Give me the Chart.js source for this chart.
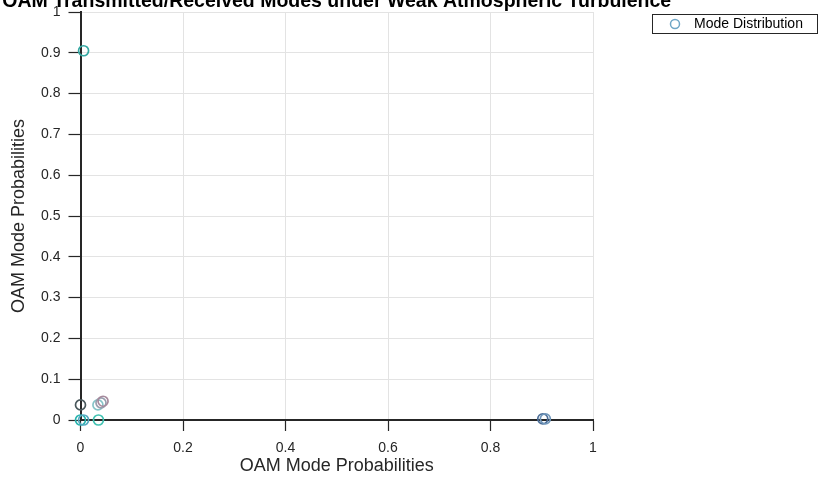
<!DOCTYPE html>
<html>
<head>
<meta charset="utf-8">
<script src="https://cdn.jsdelivr.net/npm/chart.js@4/dist/chart.umd.min.js"></script>
<style>
  html, body { margin: 0; padding: 0; background: #ffffff; }
  canvas { display: block; }
</style>
</head>
<body>
<canvas id="chart" width="820" height="478"></canvas>
<script>
// OAM mode probabilities: transmitted (x) vs received (y)
const modeX = [0.006, 0.902, 0.907, 0.000, 0.000, 0.006, 0.035, 0.034, 0.040, 0.044];
const modeY = [0.905, 0.003, 0.003, 0.037, 0.000, 0.000, 0.000, 0.037, 0.042, 0.046];
const modeColors = ['#35a8a2', '#4a6c96', '#6f96ba', '#4a585c', '#28b4ae', '#55a9c0',
                    '#42c2b2', '#86c4c8', '#979eae', '#a6899c'];
const xTickValues = [0, 0.2, 0.4, 0.6, 0.8, 1];
const yTickValues = [0, 0.1, 0.2, 0.3, 0.4, 0.5, 0.6, 0.7, 0.8, 0.9, 1];

const chartTitle = 'OAM Transmitted/Received Modes under Weak Atmospheric Turbulence';
const seriesLabel = 'Mode Distribution';
const axisTitle = 'OAM Mode Probabilities';

const FONT = 'Arial, "Liberation Sans", sans-serif';
const TEXT = '#262626';

const points = modeX.map((x, i) => ({ x: x, y: modeY[i] }));

// Title sits above the axes, partly outside the canvas top edge
const titlePlugin = {
  id: 'topTitle',
  afterDraw(chart) {
    const { ctx, chartArea } = chart;
    ctx.save();
    ctx.font = 'bold 19.5px ' + FONT;
    ctx.fillStyle = '#000000';
    ctx.textAlign = 'center';
    ctx.textBaseline = 'alphabetic';
    ctx.fillText(chartTitle, (chartArea.left + chartArea.right) / 2, 7);
    ctx.restore();
  }
};

// Boxed legend to the right of the axes
const legendPlugin = {
  id: 'boxLegend',
  afterDraw(chart) {
    const { ctx } = chart;
    const ds = chart.data.datasets[0];
    ctx.save();
    ctx.fillStyle = '#ffffff';
    ctx.fillRect(652.5, 14.5, 165, 19);
    ctx.strokeStyle = '#262626';
    ctx.lineWidth = 1;
    ctx.strokeRect(652.5, 14.5, 165, 19);
    ctx.beginPath();
    ctx.arc(675, 24, 4.5, 0, Math.PI * 2);
    ctx.strokeStyle = '#6fa6c6';
    ctx.lineWidth = 1.5;
    ctx.stroke();
    ctx.font = '14px ' + FONT;
    ctx.fillStyle = '#000000';
    ctx.textAlign = 'left';
    ctx.textBaseline = 'middle';
    ctx.fillText(ds.label, 694, 24.5);
    ctx.restore();
  }
};

new Chart(document.getElementById('chart'), {
  type: 'scatter',
  data: {
    datasets: [{
      label: seriesLabel,
      data: points,
      pointStyle: 'circle',
      pointRadius: 5,
      pointHoverRadius: 5,
      pointBorderWidth: 1.7,
      pointBackgroundColor: 'rgba(0,0,0,0)',
      pointBorderColor: modeColors,
      showLine: false,
      clip: false
    }]
  },
  options: {
    responsive: false,
    animation: false,
    events: [],
    layout: { padding: { top: 12, right: 227, bottom: 0, left: 0 } },
    plugins: {
      legend: { display: false },
      tooltip: { enabled: false },
      title: { display: false }
    },
    scales: {
      x: {
        type: 'linear',
        min: 0,
        max: 1,
        afterFit(scale) { scale.height = 58; },
        afterBuildTicks(scale) { scale.ticks = xTickValues.map(v => ({ value: v })); },
        ticks: {
          color: TEXT,
          font: { family: FONT, size: 14 },
          padding: 9,
          maxRotation: 0,
          callback: v => String(Number(v.toFixed(2)))
        },
        grid: {
          color: '#e3e3e3',
          lineWidth: 1,
          tickLength: 11,
          tickColor: '#262626',
          tickWidth: 1.2
        },
        border: { display: true, color: '#262626', width: 2 },
        title: {
          display: true,
          text: axisTitle,
          color: TEXT,
          font: { family: FONT, size: 18 },
          padding: { top: 0, bottom: 1.5 }
        }
      },
      y: {
        type: 'linear',
        min: 0,
        max: 1,
        afterFit(scale) {
          scale.width = 80.5;
          scale.paddingTop = 0;
          scale.paddingBottom = 0;
        },
        afterBuildTicks(scale) { scale.ticks = yTickValues.map(v => ({ value: v })); },
        ticks: {
          color: TEXT,
          font: { family: FONT, size: 14 },
          padding: 8,
          callback: v => String(Number(v.toFixed(2)))
        },
        grid: {
          color: '#e3e3e3',
          lineWidth: 1,
          tickLength: 12,
          tickColor: '#262626',
          tickWidth: 1.2
        },
        border: { display: true, color: '#262626', width: 2 },
        title: {
          display: true,
          text: axisTitle,
          color: TEXT,
          font: { family: FONT, size: 18 },
          padding: { top: 8.5, bottom: 0 }
        }
      }
    }
  },
  plugins: [titlePlugin, legendPlugin]
});
</script>
</body>
</html>
